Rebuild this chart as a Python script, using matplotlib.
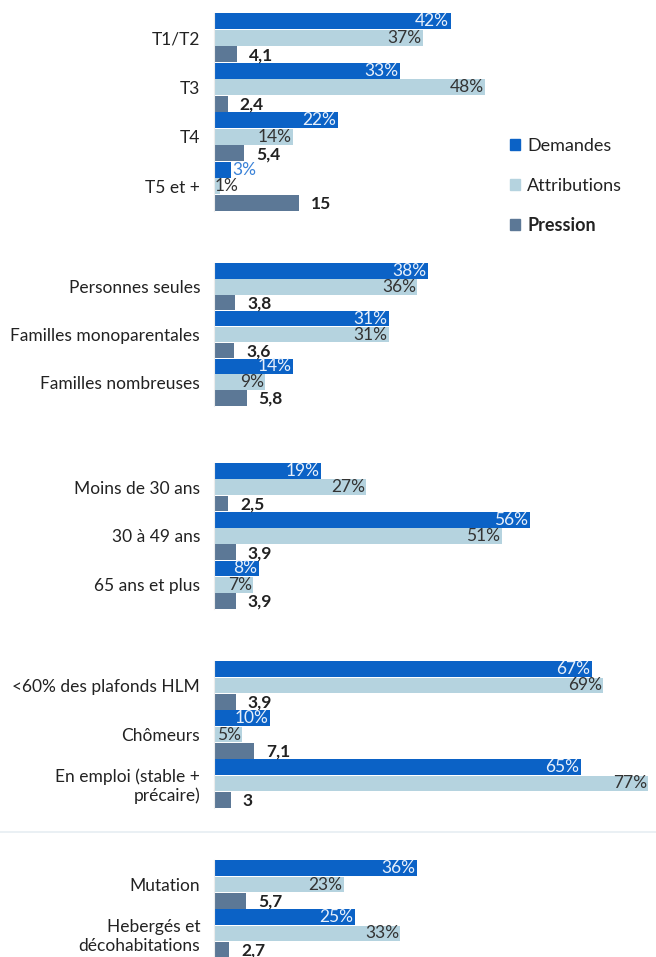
import matplotlib.pyplot as plt
from matplotlib.patches import Patch

plt.rcParams['font.family'] = ['Lato', 'DejaVu Sans']

# data, one block per panel
cats_taille = ["T1/T2", "T3", "T4", "T5 et +"]
dem_taille = [42, 33, 22, 3]
att_taille = [37, 48, 14, 1]
pres_taille = [4.1, 2.4, 5.4, 15]

cats_menage = ["Personnes seules", "Familles monoparentales", "Familles nombreuses"]
dem_menage = [38, 31, 14]
att_menage = [36, 31, 9]
pres_menage = [3.8, 3.6, 5.8]

cats_age = ["Moins de 30 ans", "30 à 49 ans", "65 ans et plus"]
dem_age = [19, 56, 8]
att_age = [27, 51, 7]
pres_age = [2.5, 3.9, 3.9]

cats_revenu = ["<60% des plafonds HLM", "Chômeurs", "En emploi (stable +\nprécaire)"]
dem_revenu = [67, 10, 65]
att_revenu = [69, 5, 77]
pres_revenu = [3.9, 7.1, 3]

cats_motif = ["Mutation", "Hebergés et\ndécohabitations"]
dem_motif = [36, 25]
att_motif = [23, 33]
pres_motif = [5.7, 2.7]

C_DEM = "#0b62c6"
C_ATT = "#b5d3df"
C_PRES = "#5c7896"

W, H = 656, 957
fig = plt.figure(figsize=(W / 100, H / 100), dpi=100)

X0 = 214
XMAX = (W - X0) / 5.64
FS = 12.5


def panel(top, bottom, cats, dem, att, pres):
    ax = fig.add_axes([X0 / W, 1 - bottom / H, (W - X0) / W, (bottom - top) / H])
    n = len(cats)
    h = 0.325
    for i in range(n):
        yd, ya, yp = i + 1 / 6, i + 0.5, i + 5 / 6
        ax.barh(yd, dem[i], height=h, color=C_DEM)
        ax.barh(ya, att[i], height=h, color=C_ATT)
        ax.barh(yp, pres[i], height=h, color=C_PRES)
        # demandes labels
        if dem[i] >= 6:
            ax.text(dem[i] - 0.3, yd, f"{dem[i]}%", ha="right", va="center",
                    color="#e8f0fb", fontsize=FS)
        else:
            ax.text(dem[i] + 0.3, yd, f"{dem[i]}%", ha="left", va="center",
                    color="#3a82d8", fontsize=FS)
        # attributions labels
        ax.text(max(att[i], 4.5) - 0.2, ya, f"{att[i]}%", ha="right", va="center",
                color="#333333", fontsize=FS)
        # pression labels
        lab = f"{pres[i]:g}".replace(".", ",")
        ax.text(pres[i] + 2.1, yp + 0.02, lab, ha="left", va="center",
                color="#222222", fontsize=FS, fontweight="bold")
    ax.set_xlim(0, XMAX)
    ax.set_ylim(n, 0)
    ax.set_yticks([i + 0.5 for i in range(n)])
    ax.set_yticklabels(cats, fontsize=FS, color="#222222")
    ax.tick_params(axis="y", length=0, pad=10)
    ax.set_xticks([])
    for s in ["top", "right", "bottom"]:
        ax.spines[s].set_visible(False)
    ax.spines["left"].set_color("#ececec")
    ax.patch.set_alpha(0)
    return ax


panel(13, 211, cats_taille, dem_taille, att_taille, pres_taille)
panel(263, 406, cats_menage, dem_menage, att_menage, pres_menage)
panel(463, 609, cats_age, dem_age, att_age, pres_age)
panel(661, 808, cats_revenu, dem_revenu, att_revenu, pres_revenu)
panel(860, 958, cats_motif, dem_motif, att_motif, pres_motif)

# faint separator line
fig.add_artist(plt.Line2D([0, 1], [1 - 832 / H, 1 - 832 / H], color="#e6eef2", lw=1.2))

handles = [Patch(color=C_DEM), Patch(color=C_ATT), Patch(color=C_PRES)]
leg = fig.legend(handles, ["Demandes", "Attributions", "Pression"],
                 loc="upper left", bbox_to_anchor=(494 / W, 1 - 122 / H),
                 frameon=False, fontsize=13, handlelength=0.55, handleheight=0.55,
                 handletextpad=0.4, labelspacing=1.3)
for t in leg.get_texts():
    t.set_color("#222222")
leg.get_texts()[2].set_fontweight("bold")

fig.savefig("out.png", dpi=100)
